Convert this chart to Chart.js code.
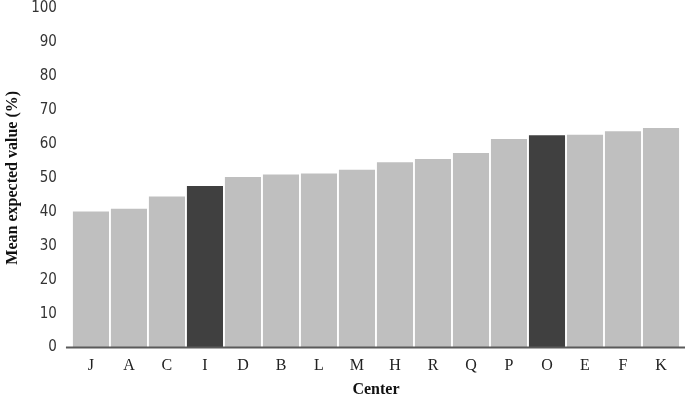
<!DOCTYPE html>
<html>
<head>
<meta charset="utf-8">
<script src="https://cdn.jsdelivr.net/npm/chart.js@4"></script>
<style>
  html, body { margin: 0; padding: 0; background: #fff; }
  #wrap { width: 685px; height: 399px; }
</style>
</head>
<body>
<div id="wrap"><canvas id="chart"></canvas></div>
<script>
const centers = ['J', 'A', 'C', 'I', 'D', 'B', 'L', 'M', 'H', 'R', 'Q', 'P', 'O', 'E', 'F', 'K'];
const meanExpected = [40.1, 40.9, 44.5, 47.6, 50.2, 51.0, 51.3, 52.4, 54.6, 55.5, 57.3, 61.4, 62.5, 62.7, 63.7, 64.7];
const highlighted = ['I', 'O'];

const LIGHT = '#bfbfbf';
const DARK = '#404040';

// Excel-style baseline that runs a little past the plot area on both sides
const baseline = {
  id: 'baseline',
  afterDatasetsDraw(chart) {
    const { ctx, chartArea, scales } = chart;
    const y = scales.y.getPixelForValue(0);
    ctx.save();
    ctx.strokeStyle = '#5a5a5a';
    ctx.lineWidth = 2;
    ctx.beginPath();
    ctx.moveTo(chartArea.left - 6, y);
    ctx.lineTo(chartArea.right + 5, y);
    ctx.stroke();
    ctx.restore();
  },
};

const ctx = document.getElementById('chart').getContext('2d');
new Chart(ctx, {
  type: 'bar',
  data: {
    labels: centers,
    datasets: [{
      label: 'Mean expected value',
      data: meanExpected,
      backgroundColor: centers.map(c => highlighted.includes(c) ? DARK : LIGHT),
      borderWidth: 0,
      barPercentage: 0.95,
      categoryPercentage: 1.0,
    }],
  },
  options: {
    responsive: true,
    maintainAspectRatio: false,
    animation: false,
    layout: { padding: { top: 0, right: 5, left: 3, bottom: 0 } },
    scales: {
      x: {
        grid: { display: false },
        border: { display: false },
        ticks: {
          color: '#222',
          font: { family: 'Liberation Serif', size: 16 },
          padding: 1,
        },
        title: {
          display: true,
          text: 'Center',
          color: '#111',
          font: { family: 'Liberation Serif', size: 16, weight: 'bold' },
          padding: { top: 3, bottom: 0 },
        },
      },
      y: {
        min: 0,
        max: 100,
        grid: { display: false },
        border: { display: false },
        // tick padding would otherwise also push the plot top down
        afterFit(scale) { scale.paddingTop = 8; },
        ticks: {
          stepSize: 10,
          color: '#333',
          font: { family: 'DejaVu Sans Condensed', size: 15 },
          padding: 7,
        },
        title: {
          display: true,
          text: 'Mean expected value (%)',
          color: '#111',
          font: { family: 'Liberation Serif', size: 16, weight: 'bold' },
          padding: { top: 0, bottom: 2 },
        },
      },
    },
    plugins: {
      legend: { display: false },
      tooltip: { enabled: false },
    },
  },
  plugins: [baseline],
});
</script>
</body>
</html>
